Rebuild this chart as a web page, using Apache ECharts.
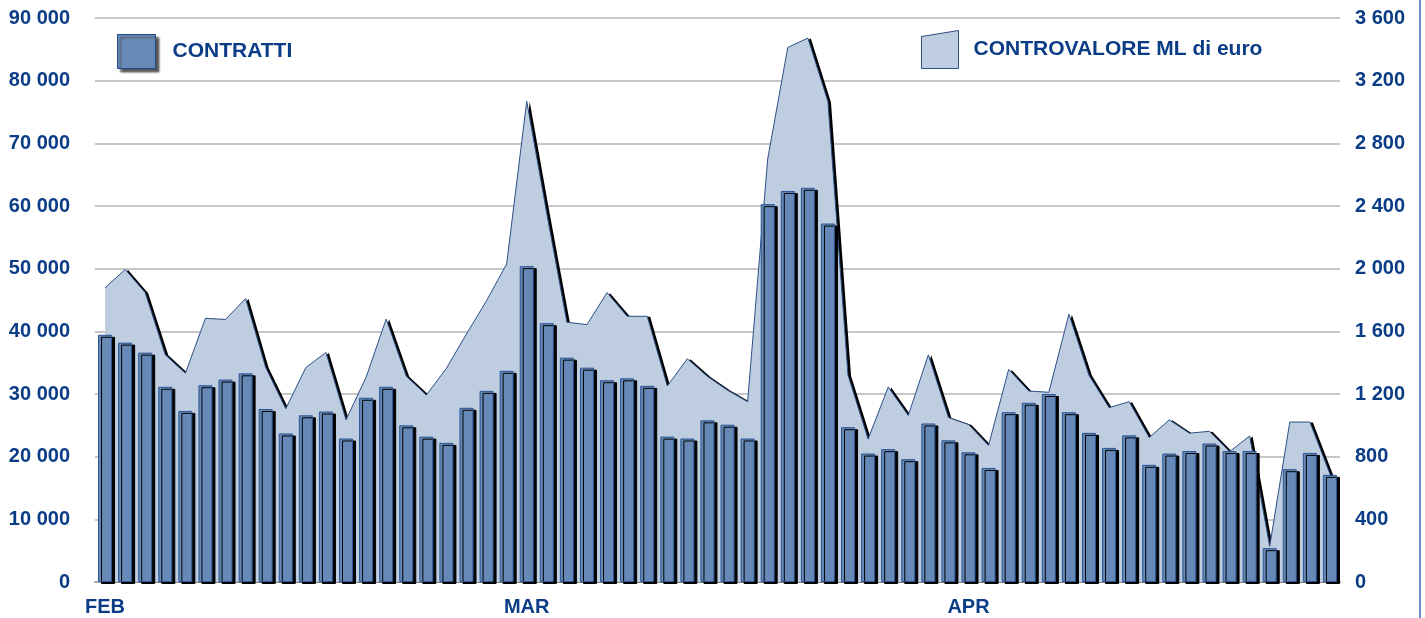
<!DOCTYPE html>
<html>
<head>
<meta charset="utf-8">
<script src="https://cdn.jsdelivr.net/npm/echarts@6/dist/echarts.min.js"></script>
<style>
  html, body { margin: 0; padding: 0; background: #fff; }
  #chart { width: 1425px; height: 618px; }
</style>
</head>
<body>
<div id="chart"></div>
<script>
// sedute giornaliere feb-apr
const months = ["FEB", "MAR", "APR"];
const monthStart = [0, 21, 43];

const contratti = [
  39450, 38200, 36600, 31150, 27300, 31400, 32300, 33300, 27600, 23700,
  26600, 27200, 22900, 29400, 31150, 25000, 23200, 22200, 27800, 30500,
  33700, 50400, 41300, 35800, 34200, 32200, 32500, 31300, 23200, 22900,
  25800, 25100, 22900, 60300, 62400, 62900, 57200, 24700, 20500, 21200,
  19600, 25300, 22600, 20700, 18200, 27100, 28600, 30000, 27100, 23800,
  21400, 23400, 18700, 20500, 20900, 22100, 20900, 20900, 5400, 18000,
  20600, 17100
];

const controvalore = [
  1877, 1995, 1847, 1450, 1332, 1683, 1676, 1809, 1369, 1106,
  1369, 1465, 1035, 1307, 1678, 1314, 1193, 1364, 1583, 1796,
  2030, 3068, 2350, 1658, 1643, 1847, 1696, 1696, 1251, 1425,
  1312, 1224, 1151, 2700, 3412, 3472, 3066, 1319, 912, 1244,
  1063, 1450, 1050, 1005, 872, 1357, 1219, 1211, 1709, 1319,
  1113, 1151, 922, 1035, 950, 962, 832, 932, 228, 1021,
  1021, 689
];

const leftTicks = { min: 0, max: 90000, interval: 10000 };
const rightTicks = { min: 0, max: 3600, interval: 400 };

const categories = contratti.map((v, i) => {
  const k = monthStart.indexOf(i);
  return k >= 0 ? months[k] : "g" + (i + 1);
});

const blu = "#0b3c86";
const font = "'Liberation Sans', Arial, sans-serif";
const fmt = (v) => String(v).replace(/\B(?=(\d{3})+(?!\d))/g, " ");

const chart = echarts.init(document.getElementById("chart"));
chart.setOption({
  backgroundColor: "#fff",
  animation: false,
  grid: { left: 95, right: 85, top: 18, bottom: 36 },
  legend: [
    {
      left: 112, top: 29,
      itemWidth: 38, itemHeight: 34,
      textStyle: { color: blu, fontSize: 21, fontWeight: "bold", fontFamily: font, padding: [0, 0, 0, 12] },
      data: [{
        name: "CONTRATTI", icon: "rect",
        itemStyle: { color: "#6689b7", borderColor: "#1f4a8c", borderWidth: 1,
          shadowColor: "#555", shadowOffsetX: 3, shadowOffsetY: 3, shadowBlur: 2 }
      }]
    },
    {
      left: 916, top: 25,
      itemWidth: 37, itemHeight: 38,
      textStyle: { color: blu, fontSize: 21, fontWeight: "bold", fontFamily: font, padding: [0, 0, 0, 10] },
      data: [{
        name: "CONTROVALORE ML di euro",
        icon: "path://M0,6L37,0L37,38L0,38Z",
        itemStyle: { color: "#bfcde0", borderColor: "#2c4f86", borderWidth: 1 }
      }]
    }
  ],
  xAxis: {
    type: "category",
    data: categories,
    boundaryGap: true,
    axisLine: { lineStyle: { color: "#a6a6a6", width: 2 } },
    axisTick: { show: false },
    axisLabel: {
      interval: 0, margin: 15,
      color: blu, fontSize: 20, fontWeight: "bold", fontFamily: font,
      formatter: (v) => (months.indexOf(v) >= 0 ? v : "")
    }
  },
  yAxis: [
    {
      type: "value",
      min: leftTicks.min, max: leftTicks.max, interval: leftTicks.interval,
      axisLine: { show: false },
      axisTick: { show: false },
      splitLine: { lineStyle: { color: "#b5b5b5", width: 1.5 } },
      axisLabel: { margin: 25, color: blu, fontSize: 20, fontWeight: "bold", fontFamily: font, formatter: fmt }
    },
    {
      type: "value",
      min: rightTicks.min, max: rightTicks.max, interval: rightTicks.interval,
      axisLine: { show: false },
      axisTick: { show: false },
      splitLine: { show: false },
      axisLabel: { margin: 15, color: blu, fontSize: 20, fontWeight: "bold", fontFamily: font, formatter: fmt }
    }
  ],
  graphic: [
    {
      type: "line",
      shape: { x1: 1420, y1: 0, x2: 1420, y2: 618 },
      style: { stroke: "#6b8fc4", lineWidth: 2 }
    }
  ],
  series: [
    {
      name: "CONTROVALORE ML di euro",
      type: "line",
      z: 1,
      yAxisIndex: 1,
      data: controvalore,
      symbol: "none",
      lineStyle: { color: "#2c4f86", width: 1 },
      areaStyle: {
        color: "#bfcde0",
        opacity: 1,
        shadowColor: "#000", shadowOffsetX: 3, shadowOffsetY: 0.5, shadowBlur: 0
      },
      itemStyle: { color: "#bfcde0" }
    },
    {
      name: "CONTRATTI",
      type: "bar",
      z: 3,
      yAxisIndex: 0,
      data: contratti,
      barWidth: 14,
      itemStyle: {
        color: "#6689b7",
        borderColor: "#2a5592",
        borderWidth: 1,
        shadowColor: "#000",
        shadowOffsetX: 3,
        shadowOffsetY: 2,
        shadowBlur: 0
      }
    }
  ]
});
</script>
</body>
</html>
